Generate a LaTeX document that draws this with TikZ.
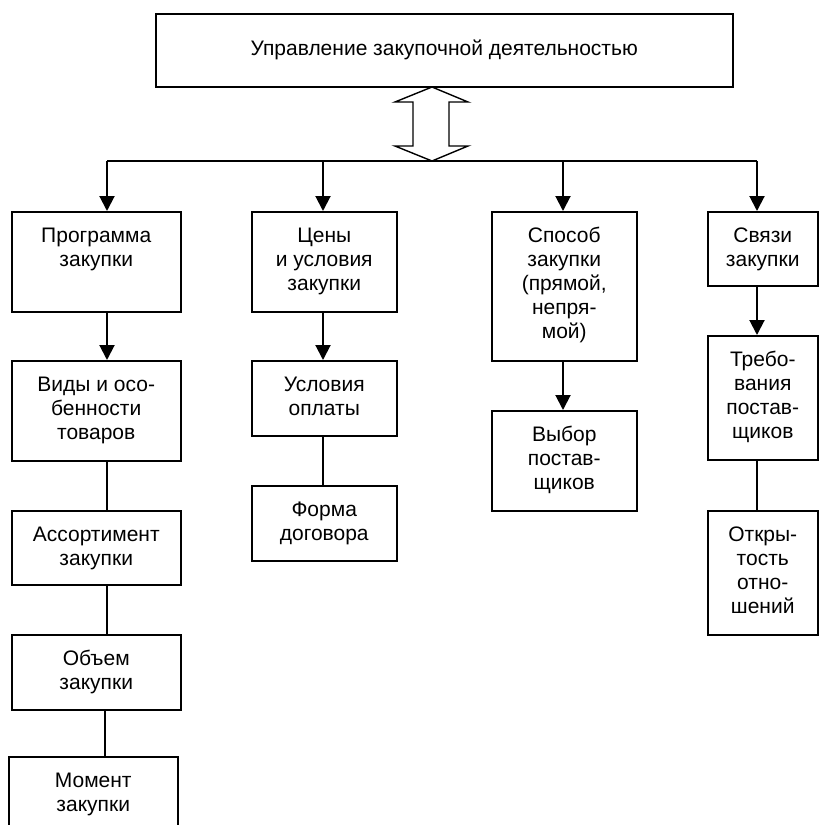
\documentclass[tikz,border=0pt]{standalone}
\usepackage{fontspec}
\setmainfont{Liberation Sans}
\usetikzlibrary{arrows.meta,calc}
\newcommand{\btx}[3]{\parbox[c][#2][t]{#1}{\centering\rule{0pt}{31pt}#3}}
\tikzset{
  bx/.style={draw, line width=1.5pt, inner sep=0pt, anchor=north west, font=\fontsize{21}{24}\selectfont},
  arr/.style={line width=2pt, -{Triangle[width=15pt,length=15pt]}},
  ln/.style={line width=1.4pt},
  lnb/.style={line width=2pt},
  dbl/.style={draw, line width=1.4pt, fill=white, line join=miter}
}
\begin{document}
\begin{tikzpicture}[x=1pt,y=-1pt]
\useasboundingbox (0,0) rectangle (819,825);
\clip (0,0) rectangle (819,825);
% top box
\node[bx, minimum width=577pt, minimum height=73pt] (top) at (155,13) {\raisebox{-1pt}{Управление закупочной деятельностью}};
% column 1
\node[bx] (prog) at (11,211) {\btx{169pt}{100pt}{Программа\\закупки}};
\node[bx] (vidy) at (11,360) {\btx{169pt}{100pt}{Виды и осо-\\бенности\\товаров}};
\node[bx] (asso) at (11,510) {\btx{169pt}{74pt}{Ассортимент\\закупки}};
\node[bx] (obem) at (11,634) {\btx{169pt}{75pt}{Объем\\закупки}};
\node[bx] (mom) at (8,756) {\btx{169pt}{95pt}{Момент\\закупки}};
% column 2
\node[bx] (tseny) at (251,211) {\btx{145pt}{100pt}{Цены\\и условия\\закупки}};
\node[bx] (usl) at (251,360) {\btx{145pt}{75pt}{Условия\\оплаты}};
\node[bx] (forma) at (251,485) {\btx{145pt}{75pt}{Форма\\договора}};
% column 3
\node[bx] (spos) at (491,211) {\btx{145pt}{149pt}{Способ\\закупки\\(прямой,\\непря-\\мой)}};
\node[bx] (vyb) at (491,410) {\btx{145pt}{100pt}{Выбор\\постав-\\щиков}};
% column 4
\node[bx] (svy) at (707,211) {\btx{110pt}{74pt}{Связи\\закупки}};
\node[bx] (treb) at (707,335) {\btx{110pt}{124pt}{Требо-\\вания\\постав-\\щиков}};
\node[bx] (otkr) at (707,510) {\btx{110pt}{124pt}{Откры-\\тость\\отно-\\шений}};
% bus
\coordinate (b0) at (107,161);
\coordinate (b1) at (323,161);
\coordinate (b2) at (563,161);
\coordinate (b3) at (757,161);
\draw[lnb] (b0) -- (b3);
\draw[arr] (b0) -- (b0 |- prog.north);
\draw[arr] (b1) -- (b1 |- tseny.north);
\draw[arr] (b2) -- (b2 |- spos.north);
\draw[arr] (b3) -- (b3 |- svy.north);
% double arrow
\coordinate (dtop) at (432,87);
\coordinate (dbot) at (432,161);
\draw[dbl] (dtop) -- ++(36,15) -- ++(-19,0) -- ++(0,44) -- ++(19,0) -- (dbot)
  -- ++(-37,-15) -- ++(18,0) -- ++(0,-44) -- ++(-18,0) -- cycle;
% column connectors
\draw[arr] (prog.south -| b0) -- (vidy.north -| b0);
\draw[ln] (vidy.south -| b0) -- (asso.north -| b0);
\draw[ln] (asso.south -| b0) -- (obem.north -| b0);
\draw[lnb] ([xshift=8.5pt]obem.south) -- ([xshift=8.5pt]obem.south |- mom.north);
\draw[arr] (tseny.south -| b1) -- (usl.north -| b1);
\draw[ln] (usl.south -| b1) -- (forma.north -| b1);
\draw[arr] (spos.south -| b2) -- (vyb.north -| b2);
\draw[arr] (svy.south -| b3) -- (treb.north -| b3);
\draw[ln] (treb.south -| b3) -- (otkr.north -| b3);
\end{tikzpicture}
\end{document}
